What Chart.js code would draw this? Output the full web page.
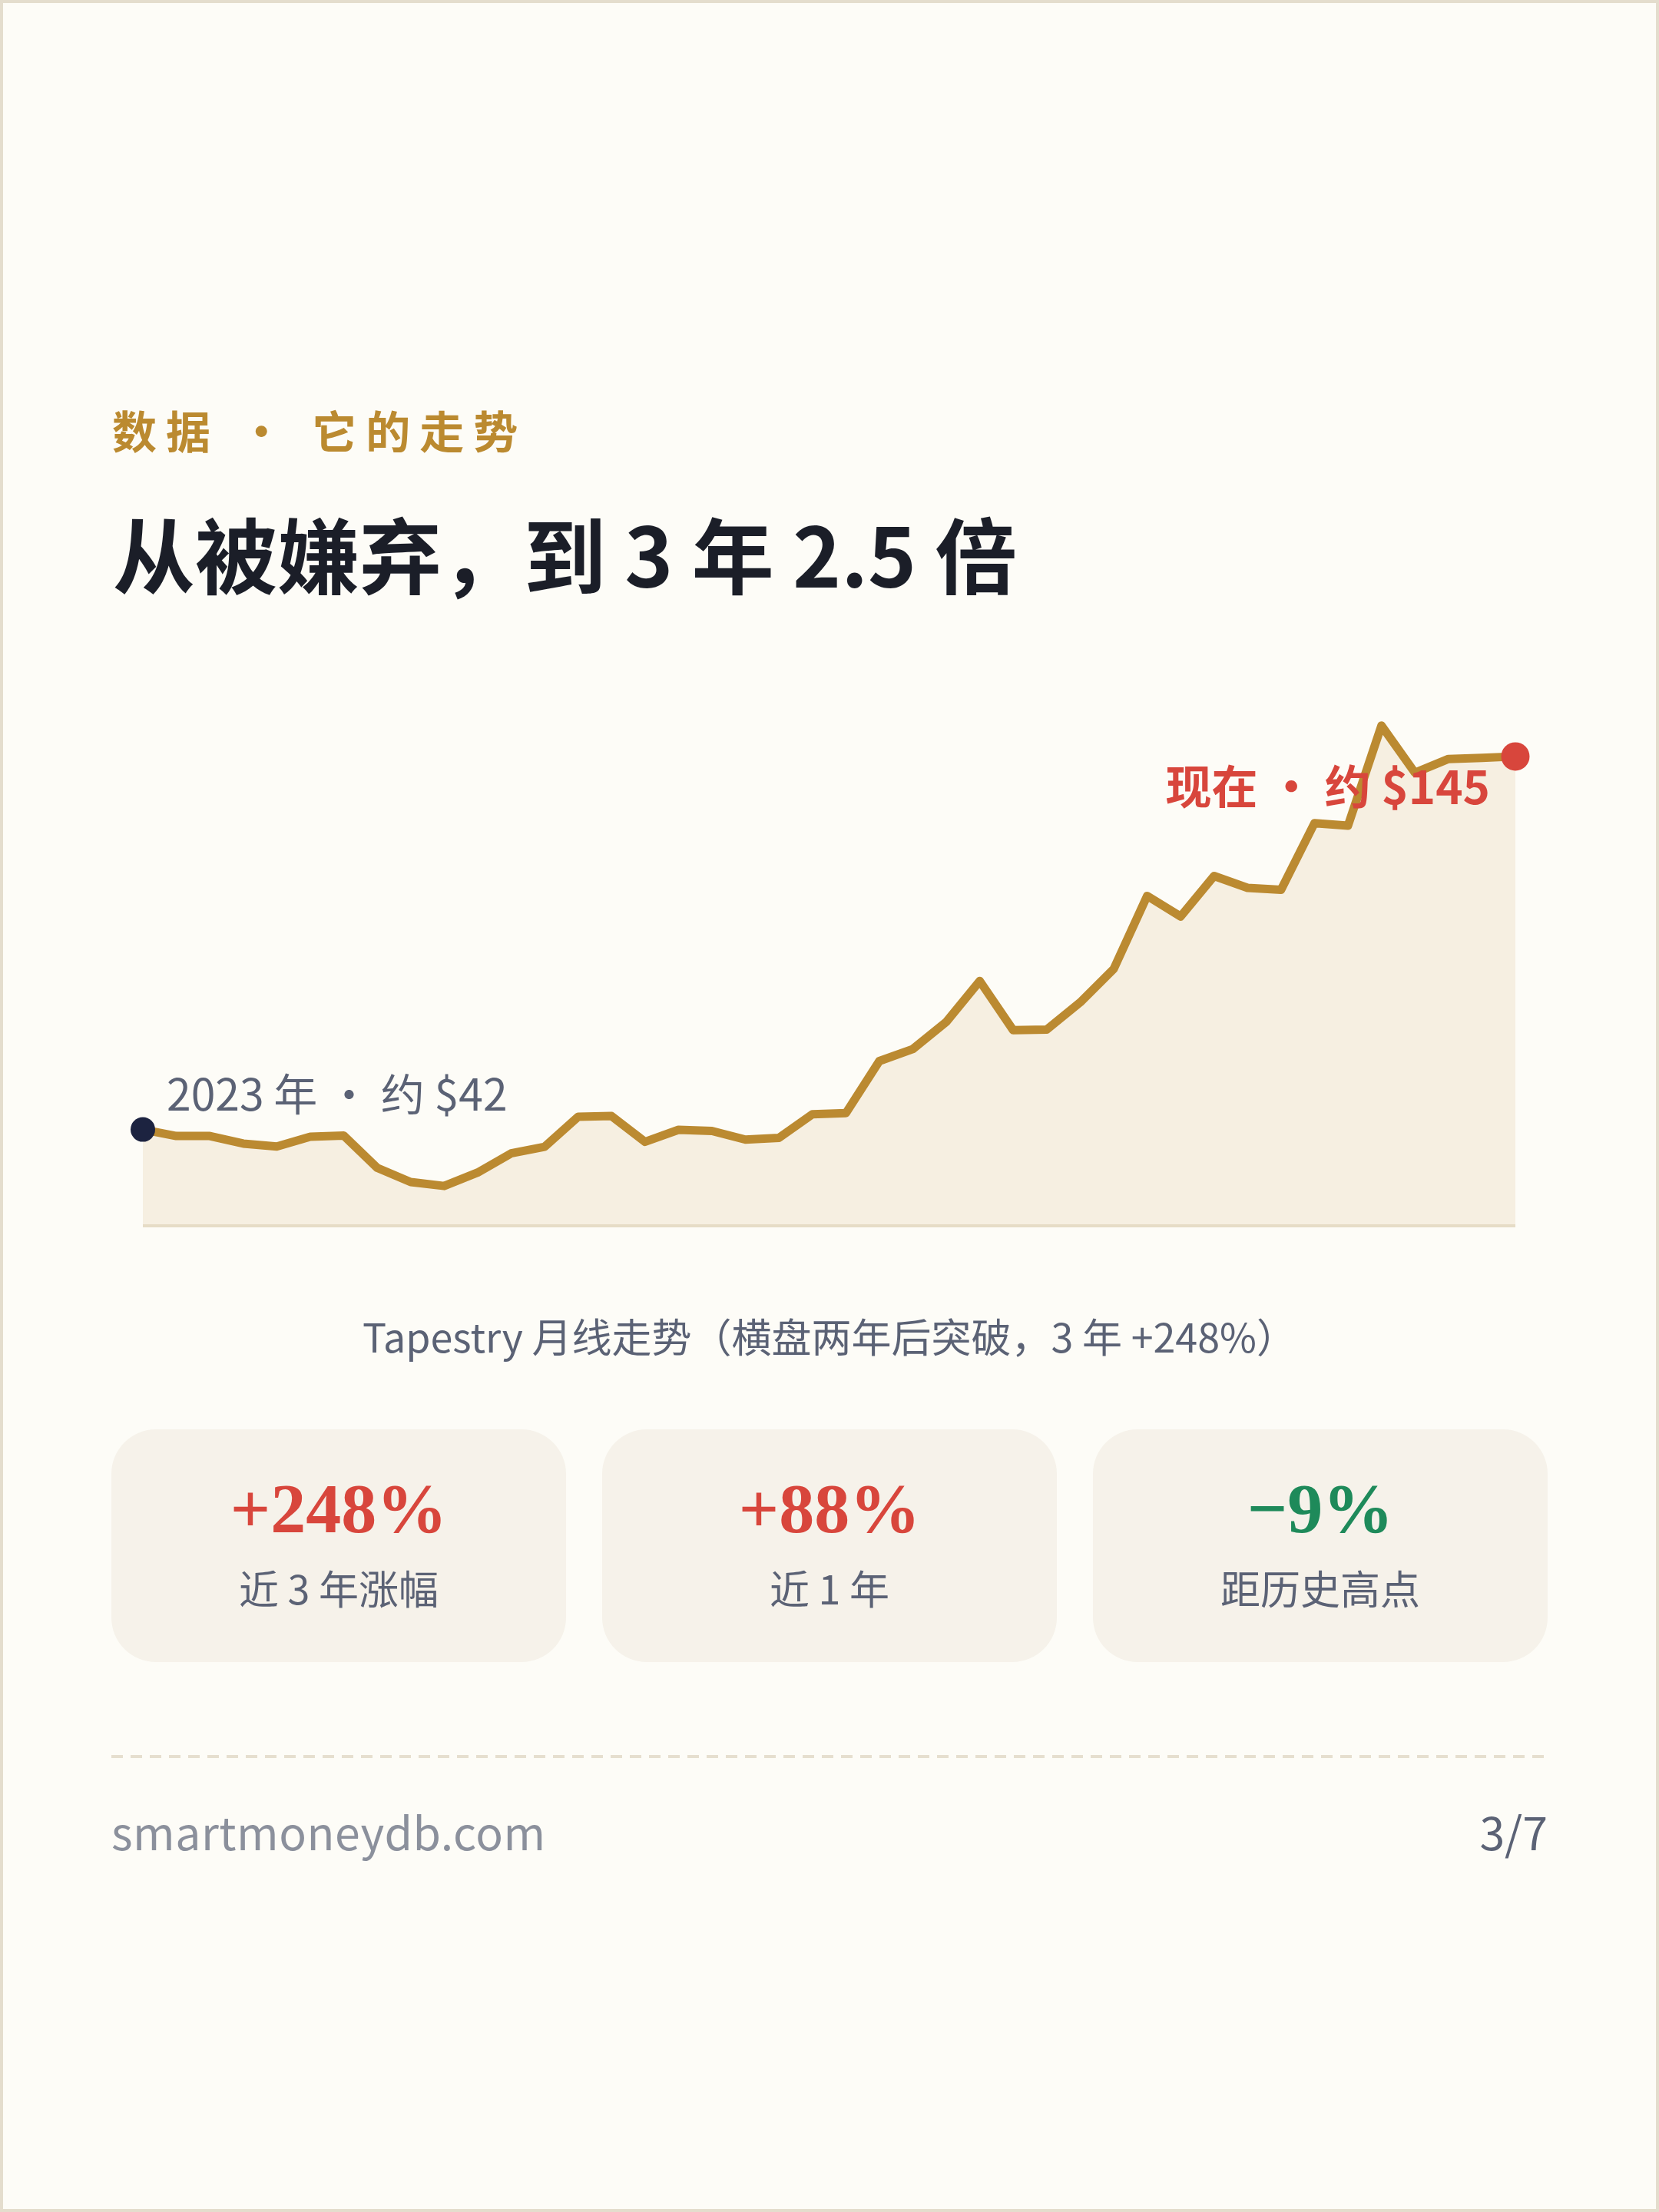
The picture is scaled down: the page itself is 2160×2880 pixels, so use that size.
<!DOCTYPE html>
<html lang="zh-CN">
<head>
<meta charset="utf-8">
<script src="https://cdn.jsdelivr.net/npm/chart.js@4.4.1/dist/chart.umd.min.js"></script>
<style>
  html, body { margin: 0; padding: 0; }
  body { width: 2160px; height: 2880px; background: #fdfcf7; position: relative; overflow: hidden;
         font-family: "Noto Sans CJK SC", "Noto Sans", sans-serif; }
  .frame { position: absolute; left: 0; top: 0; width: 2160px; height: 2880px; box-sizing: border-box;
           border: 4px solid #e4ddcd; pointer-events: none; }
  .abs { position: absolute; white-space: nowrap; line-height: 1; }
  #kicker { left: 146px; top: 530px; font-size: 58px; font-weight: 700; color: #bb8a30; letter-spacing: 12px; }
  #title { left: 147px; top: 665px; font-size: 107px; font-weight: 700; color: #1b1e28; }
  #chartBox { position: absolute; left: 0; top: 880px; width: 2160px; height: 740px; }
  #startLabel { font-size: 57px; color: #5b6275; }
  #endLabel { font-size: 60px; font-weight: 700; color: #d8463c; }
  #caption { left: 145px; width: 1870px; text-align: center; top: 1713px; font-size: 52px; color: #5b6275; }
  .card { position: absolute; top: 1861px; width: 592px; height: 303px; background: #f6f2ea; border-radius: 58px; }
  .card .num { position: absolute; left: 0; right: 0; top: 57px; text-align: center; line-height: 1;
               font-family: "Liberation Serif", serif; font-weight: 700; font-size: 92px; }
  .card .lab { position: absolute; left: 0; right: 0; top: 180px; text-align: center; line-height: 1;
               font-size: 52px; color: #5b6275; }
  #rule { position: absolute; left: 145px; top: 2285px; width: 1870px; height: 4px;
          background-image: linear-gradient(to right, #e6dfcf 0 15px, transparent 15px 25px);
          background-size: 25px 4px; background-repeat: repeat-x; }
  #site { left: 145px; top: 2354px; font-size: 59px; color: #8b909c; letter-spacing: 0.5px; }
  #page { right: 145px; top: 2354px; font-size: 59px; color: #5b6275; }
</style>
</head>
<body>
<div class="frame"></div>

<div id="kicker" class="abs">数据 · 它的走势</div>
<div id="title" class="abs">从被嫌弃，到 3 年 2.5 倍</div>

<div id="chartBox"><canvas id="c"></canvas></div>
<div id="startLabel" class="abs"></div>
<div id="endLabel" class="abs"></div>

<div id="caption" class="abs">Tapestry 月线走势（横盘两年后突破，3 年 +248%）</div>

<div id="cards"></div>

<div id="rule"></div>
<div id="site" class="abs">smartmoneydb.com</div>
<div id="page" class="abs">3/7</div>

<script>
// ---- data ----
const months = [
  '2023-01','2023-02','2023-03','2023-04','2023-05','2023-06','2023-07','2023-08','2023-09','2023-10','2023-11','2023-12',
  '2024-01','2024-02','2024-03','2024-04','2024-05','2024-06','2024-07','2024-08','2024-09','2024-10','2024-11','2024-12',
  '2025-01','2025-02','2025-03','2025-04','2025-05','2025-06','2025-07','2025-08','2025-09','2025-10','2025-11','2025-12',
  '2026-01','2026-02','2026-03','2026-04','2026-05','2026-06'
];
const prices = [
  42.0, 40.2, 40.2, 38.1, 37.3, 40.0, 40.3, 31.4, 27.5, 26.4, 30.1, 35.4,
  37.2, 45.5, 45.7, 38.6, 41.9, 41.6, 39.2, 39.7, 46.2, 46.5, 60.9, 64.2,
  71.7, 83.0, 69.4, 69.6, 77.1, 86.3, 106.5, 100.8, 112.0, 108.7, 108.2, 126.6,
  125.9, 153.5, 140.5, 144.3, 144.6, 145.0
];
const startText = '2023 年 · 约 $42';
const endText = '现在 · 约 $145';
const statValues = ['+248%', '+88%', '\u22129%'];
const statLabels = ['近 3 年涨幅', '近 1 年', '距历史高点'];
const statColors = ['#d8463c', '#d8463c', '#1e8a5a'];
const yMin = 15.4;
const yMax = 163;

// ---- stat cards ----
const cardsEl = document.getElementById('cards');
statValues.forEach((v, i) => {
  const c = document.createElement('div');
  c.className = 'card';
  c.style.left = (145 + i * 639) + 'px';
  c.innerHTML = '<div class="num" style="color:' + statColors[i] + '">' + v + '</div><div class="lab">' + statLabels[i] + '</div>';
  cardsEl.appendChild(c);
});

// ---- chart ----
const last = prices.length - 1;
const baseline = {
  id: 'baseline',
  afterDatasetsDraw(chart) {
    const a = chart.chartArea, ctx = chart.ctx;
    ctx.save();
    ctx.strokeStyle = '#e6dcc6';
    ctx.lineWidth = 4;
    ctx.beginPath();
    ctx.moveTo(a.left, a.bottom);
    ctx.lineTo(a.right, a.bottom);
    ctx.stroke();
    ctx.restore();
  }
};

const chart = new Chart(document.getElementById('c'), {
  type: 'line',
  data: {
    labels: months,
    datasets: [{
      data: prices,
      borderColor: '#bb8a31',
      borderWidth: 11,
      borderJoinStyle: 'round',
      borderCapStyle: 'round',
      backgroundColor: '#f6efe1',
      fill: 'start',
      tension: 0,
      clip: false,
      pointRadius: ctx => ctx.dataIndex === 0 ? 16 : (ctx.dataIndex === last ? 18.5 : 0),
      pointHoverRadius: ctx => ctx.dataIndex === 0 ? 16 : (ctx.dataIndex === last ? 18.5 : 0),
      pointBackgroundColor: ctx => ctx.dataIndex === 0 ? '#1c2340' : '#d8463c',
      pointBorderWidth: 0
    }]
  },
  options: {
    responsive: true,
    maintainAspectRatio: false,
    animation: false,
    events: [],
    layout: { padding: { left: 186, right: 187, top: 20, bottom: 24 } },
    plugins: { legend: { display: false }, tooltip: { enabled: false } },
    scales: {
      x: { display: false },
      y: { display: false, min: yMin, max: yMax }
    }
  },
  plugins: [baseline]
});

// ---- point labels positioned from the chart's own scales ----
const boxTop = 880;
const xs = chart.scales.x, ys = chart.scales.y;
const p0x = xs.getPixelForValue(0), p0y = ys.getPixelForValue(prices[0]) + boxTop;
const pLx = xs.getPixelForValue(last), pLy = ys.getPixelForValue(prices[last]) + boxTop;

const sl = document.getElementById('startLabel');
sl.textContent = startText;
sl.style.left = (p0x + 31) + 'px';
sl.style.top = (p0y - 24 - 0.936 * 57) + 'px';

const el = document.getElementById('endLabel');
el.textContent = endText;
el.style.right = (2160 - (pLx - 33)) + 'px';
el.style.top = (pLy + 62 - 0.936 * 60) + 'px';
</script>
</body>
</html>
